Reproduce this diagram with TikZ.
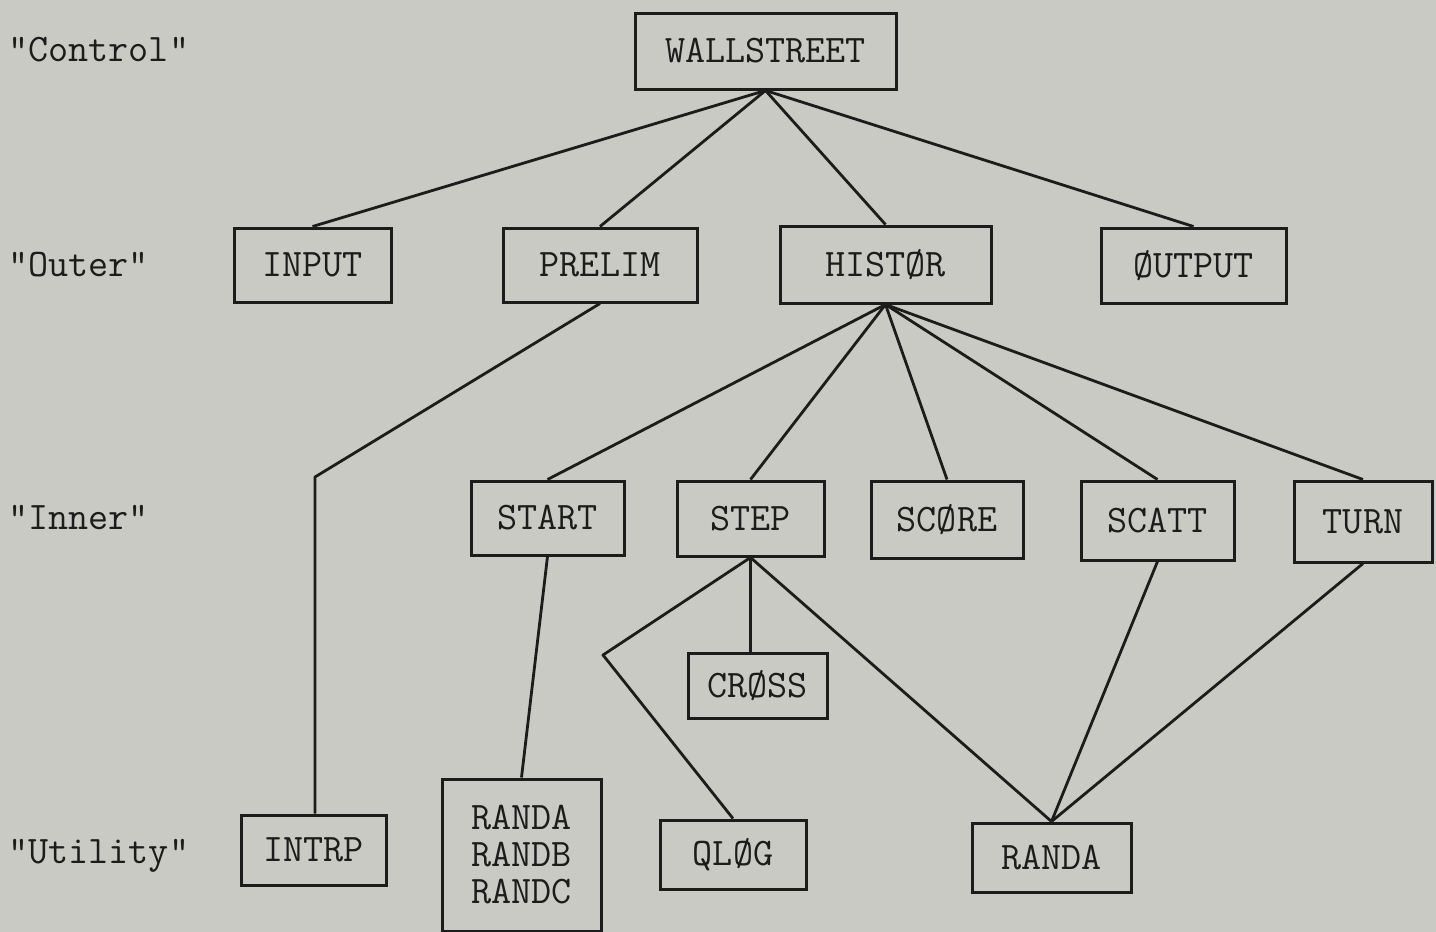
\documentclass[tikz,border=0pt]{standalone}
\usepackage{xcolor}
\usepackage{tikz}
\usetikzlibrary{positioning,calc}
\definecolor{scanbg}{RGB}{201,202,196}
\definecolor{inkdark}{RGB}{28,28,28}

\begin{document}
\begin{tikzpicture}[x=0.5pt, y=-0.5pt,
  modbox/.style={draw=inkdark, line width=1.5pt, inner sep=0pt,
    font=\fontsize{19.5pt}{18.5pt}\ttfamily, text=inkdark, align=center},
  wh/.style 2 args={minimum width=#1*0.5pt, minimum height=#2*0.5pt},
  lvl/.style={anchor=west, inner sep=0pt,
    font=\fontsize{19.5pt}{18.5pt}\ttfamily, text=inkdark},
  link/.style={draw=inkdark, line width=1.4pt, line join=round}]
\fill[scanbg] (0,0) rectangle (1436,932);
\useasboundingbox (0,0) rectangle (1436,932);

% level labels
\node[lvl] (lctrl) at (8,50) {"Control"};
\node[lvl] (louter) at (8,265) {"Outer"};
\node[lvl] (linner) at (8,518) {"Inner"};
\node[lvl] (lutil) at (8,856) {"Utility"};

% control
\node[modbox, wh={261}{76}] (wall) at (765.5,51) {WALLSTREET};
% outer
\node[modbox, wh={157}{74}] (input) at (312.5,265) {INPUT};
\node[modbox, wh={194}{74}] (prelim) at (600,265) {PRELIM};
\node[modbox, wh={211}{77}] (histor) at (885.5,264.5) {HISTØR};
\node[modbox, wh={185}{75}] (output) at (1193.5,265.5) {ØUTPUT};
% inner
\node[modbox, wh={153}{74}] (start) at (547.5,518) {START};
\node[modbox, wh={147}{75}] (stepm) at (750.5,518.5) {STEP};
\node[modbox, wh={152}{77}] (score) at (947,519.5) {SCØRE};
\node[modbox, wh={153}{79}] (scatt) at (1157.5,520.5) {SCATT};
\node[modbox, wh={138}{81}] (turn) at (1363,521.5) {TURN};
\node[modbox, wh={139}{65}] (cross) at (757.5,685.5) {CRØSS};
% utility
\node[modbox, wh={145}{70}] (intrp) at (313.5,850) {INTRP};
\node[modbox, wh={159}{152}] (randabc) at (521.5,855) {RANDA\\RANDB\\RANDC};
\node[modbox, wh={146}{69}] (qlog) at (733,854.5) {QLØG};
\node[modbox, wh={159}{69}] (randa) at (1051.5,857.5) {RANDA};

% bends
\coordinate (kprelim) at (315,477);
\coordinate (kstep) at (603,655);

\draw[link] (wall.south) -- (input.north);
\draw[link] (wall.south) -- (prelim.north);
\draw[link] (wall.south) -- (histor.north);
\draw[link] (wall.south) -- (output.north);
\draw[link] (prelim.south) -- (kprelim) -- (kprelim |- intrp.north);
\draw[link] (histor.south) -- (start.north);
\draw[link] (histor.south) -- (stepm.north);
\draw[link] (histor.south) -- (score.north);
\draw[link] (histor.south) -- (scatt.north);
\draw[link] (histor.south) -- (turn.north);
\draw[link] (start.south) -- (randabc.north);
\draw[link] (stepm.south) -- (stepm.south |- cross.north);
\draw[link] (stepm.south) -- (kstep) -- (qlog.north);
\draw[link] (stepm.south) -- (randa.north);
\draw[link] (scatt.south) -- (randa.north);
\draw[link] (turn.south) -- (randa.north);
\end{tikzpicture}
\end{document}
